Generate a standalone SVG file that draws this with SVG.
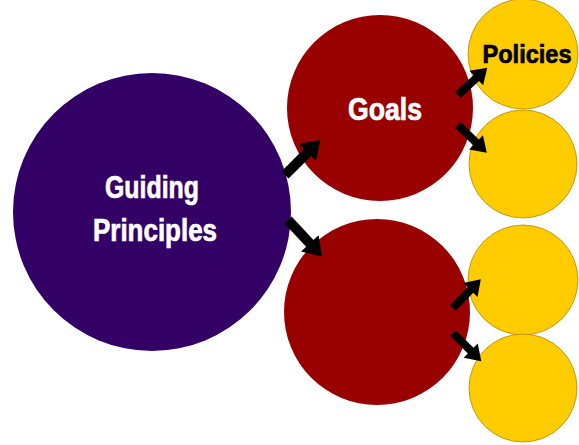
<svg xmlns="http://www.w3.org/2000/svg" width="579" height="445" viewBox="0 0 579 445">
<style>
.p{fill:#330066}
.r{fill:#990000}
.y{fill:#FFCC00;stroke:#B8860B;stroke-width:0.8}
.t{font-family:"Liberation Sans",Arial,sans-serif;font-weight:bold;text-anchor:middle;stroke-width:0.7}
.w{fill:#ffffff;stroke:#ffffff}
.k{fill:#000000;stroke:#000000}
</style>
<defs>
<polygon id="ab" points="0,-5 32,-5 32,-12 50,0 32,12 32,5 0,5" fill="#000"/>
<polygon id="as" points="0,-4 25,-4 25,-10 40,0 25,10 25,4 0,4" fill="#000"/>
</defs>
<rect width="579" height="445" fill="#fff"/>
<g id="guiding">
<circle class="p" cx="152" cy="212" r="139"/>
<text class="t w" x="152" y="198" font-size="32" textLength="94" lengthAdjust="spacingAndGlyphs">Guiding</text>
<text class="t w" x="155" y="241" font-size="32" textLength="124" lengthAdjust="spacingAndGlyphs">Principles</text>
</g>
<g id="goals">
<circle class="r" cx="380" cy="108" r="93"/>
<text class="t w" x="385" y="120" font-size="31" textLength="74" lengthAdjust="spacingAndGlyphs">Goals</text>
</g>
<g id="goal2">
<circle class="r" cx="377" cy="312" r="93"/>
</g>
<g id="policies">
<circle class="y" cx="523" cy="54" r="55"/>
<text class="t k" x="527" y="63" font-size="25" textLength="89" lengthAdjust="spacingAndGlyphs">Policies</text>
</g>
<g id="policy2"><circle class="y" cx="523" cy="164" r="54"/></g>
<g id="policy3"><circle class="y" cx="523" cy="280" r="55"/></g>
<g id="policy4"><circle class="y" cx="523" cy="388" r="54"/></g>
<g id="connectors">
<use href="#ab" transform="translate(285,175) rotate(-45)"/>
<use href="#ab" transform="translate(288,220) rotate(47)"/>
<use href="#as" transform="translate(458,95) rotate(-43)"/>
<use href="#as" transform="translate(458,125) rotate(44)"/>
<use href="#as" transform="translate(453,308) rotate(-46)"/>
<use href="#as" transform="translate(453,333) rotate(45)"/>
</g>
</svg>
